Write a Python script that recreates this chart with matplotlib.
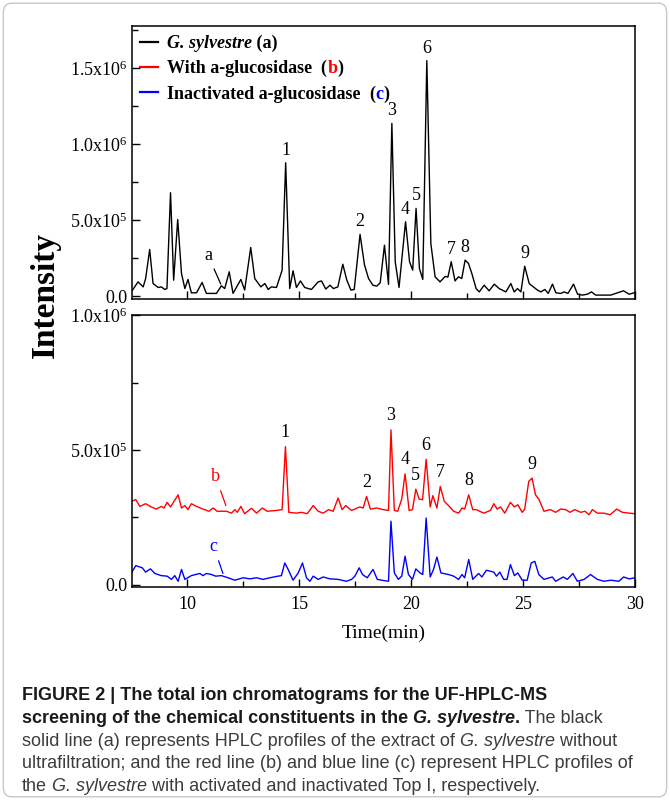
import numpy as np
import matplotlib.pyplot as plt
from matplotlib.patches import FancyBboxPatch
from matplotlib.ticker import FixedLocator, FixedFormatter, MultipleLocator

plt.rcParams["font.family"] = ["Liberation Serif", "DejaVu Serif"]
plt.rcParams["mathtext.fontset"] = "custom"
plt.rcParams["mathtext.rm"] = "Liberation Serif"
plt.rcParams["mathtext.it"] = "Liberation Serif:italic"
plt.rcParams["mathtext.bf"] = "Liberation Serif:bold"

# ---- data (time in min, intensity in units of 1e6) ----
time_a = [7.51, 7.81, 8.04, 8.15, 8.33, 8.48, 8.71, 8.85, 9.00, 9.10,
          9.26, 9.40, 9.58, 9.75, 9.90, 10.04, 10.19, 10.42, 10.67, 10.86,
          11.31, 11.53, 11.68, 11.88, 12.05, 12.40, 12.57, 12.84, 13.02, 13.29,
          13.47, 13.62, 13.76, 13.99, 14.24, 14.40, 14.58, 14.73, 14.88, 15.06,
          15.25, 15.55, 15.85, 16.00, 16.19, 16.38, 16.53, 16.73, 16.95, 17.13,
          17.31, 17.46, 17.72, 17.92, 18.10, 18.29, 18.47, 18.62, 18.81, 18.99,
          19.14, 19.29, 19.46, 19.75, 19.93, 20.07, 20.22, 20.37, 20.52, 20.70,
          20.88, 21.07, 21.29, 21.52, 21.64, 21.79, 21.96, 22.11, 22.26, 22.41,
          22.56, 22.71, 22.90, 23.04, 23.26, 23.48, 23.71, 23.93, 24.23, 24.45,
          24.60, 24.75, 24.90, 25.07, 25.27, 25.49, 25.64, 25.79, 25.97, 26.12,
          26.31, 26.46, 26.68, 26.83, 27.00, 27.25, 27.43, 27.65, 27.87, 28.05,
          28.24, 28.62, 28.91, 29.21, 29.48, 29.73, 29.96]
sylvestre_a = [0.028, 0.094, 0.061, 0.116, 0.307, 0.083, 0.057, 0.061, 0.044, 0.050,
               0.680, 0.105, 0.504, 0.149, 0.050, 0.110, 0.022, 0.022, 0.090, 0.018,
               0.018, 0.068, 0.050, 0.160, 0.018, 0.110, 0.040, 0.320, 0.116, 0.061,
               0.083, 0.044, 0.061, 0.057, 0.170, 0.877, 0.050, 0.167, 0.057, 0.100,
               0.057, 0.044, 0.094, 0.100, 0.047, 0.072, 0.050, 0.061, 0.210, 0.105,
               0.040, 0.044, 0.406, 0.204, 0.116, 0.072, 0.066, 0.088, 0.335, 0.077,
               1.136, 0.226, 0.057, 0.489, 0.226, 0.171, 0.577, 0.182, 0.110, 1.548,
               0.346, 0.127, 0.094, 0.130, 0.125, 0.226, 0.100, 0.127, 0.116, 0.237,
               0.215, 0.149, 0.050, 0.028, 0.072, 0.035, 0.079, 0.050, 0.028, 0.083,
               0.028, 0.050, 0.028, 0.197, 0.083, 0.057, 0.040, 0.028, 0.044, 0.018,
               0.079, 0.022, 0.018, 0.028, 0.018, 0.079, 0.013, 0.007, 0.013, 0.028,
               0.007, 0.007, 0.007, 0.022, 0.035, 0.013, 0.022]

time_b = [7.51, 7.71, 7.89, 8.15, 8.40, 8.63, 8.85, 8.97, 9.11, 9.26,
          9.60, 9.75, 9.90, 10.04, 10.19, 10.42, 10.71, 10.98, 11.16, 11.34,
          11.76, 11.98, 12.13, 12.24, 12.40, 12.57, 12.87, 13.10, 13.36, 13.57,
          13.99, 14.24, 14.39, 14.54, 14.88, 15.10, 15.36, 15.63, 15.85, 16.07,
          16.32, 16.52, 16.74, 16.92, 17.08, 17.34, 17.71, 17.86, 18.01, 18.18,
          18.46, 18.76, 18.99, 19.10, 19.25, 19.40, 19.58, 19.73, 19.91, 20.06,
          20.21, 20.36, 20.51, 20.67, 20.85, 20.97, 21.15, 21.30, 21.48, 21.67,
          21.90, 22.12, 22.27, 22.39, 22.57, 22.75, 22.91, 23.24, 23.54, 23.69,
          23.84, 23.99, 24.18, 24.43, 24.61, 24.76, 24.96, 25.07, 25.25, 25.40,
          25.55, 25.70, 25.93, 26.22, 26.45, 26.67, 26.90, 27.09, 27.30, 27.57,
          27.76, 27.94, 28.09, 28.31, 28.61, 28.88, 29.18, 29.43, 29.73, 30.00]
glucosidase_b = [0.309, 0.315, 0.290, 0.300, 0.288, 0.280, 0.290, 0.284, 0.305, 0.288,
                 0.333, 0.284, 0.293, 0.278, 0.300, 0.290, 0.280, 0.272, 0.284, 0.272,
                 0.272, 0.265, 0.278, 0.268, 0.290, 0.263, 0.283, 0.265, 0.284, 0.272,
                 0.275, 0.278, 0.512, 0.268, 0.265, 0.268, 0.263, 0.293, 0.272, 0.265,
                 0.278, 0.272, 0.321, 0.278, 0.293, 0.275, 0.288, 0.284, 0.327, 0.280,
                 0.284, 0.278, 0.275, 0.574, 0.275, 0.272, 0.317, 0.411, 0.275, 0.278,
                 0.354, 0.317, 0.315, 0.465, 0.288, 0.330, 0.284, 0.364, 0.309, 0.293,
                 0.272, 0.265, 0.284, 0.280, 0.333, 0.278, 0.278, 0.265, 0.275, 0.300,
                 0.280, 0.288, 0.265, 0.305, 0.288, 0.296, 0.268, 0.280, 0.383, 0.395,
                 0.333, 0.317, 0.272, 0.278, 0.268, 0.280, 0.278, 0.268, 0.278, 0.268,
                 0.272, 0.259, 0.278, 0.265, 0.265, 0.259, 0.280, 0.268, 0.265, 0.263]

time_c = [7.51, 7.71, 8.00, 8.15, 8.36, 8.56, 8.85, 9.11, 9.30, 9.45,
          9.60, 9.75, 9.90, 10.19, 10.57, 10.71, 10.86, 11.09, 11.28, 11.53,
          11.83, 12.13, 12.50, 12.80, 13.10, 13.39, 13.69, 14.06, 14.21, 14.36,
          14.51, 14.73, 14.96, 15.15, 15.33, 15.48, 15.63, 15.85, 16.07, 16.37,
          16.74, 17.11, 17.34, 17.49, 17.68, 17.83, 18.04, 18.30, 18.49, 18.76,
          18.99, 19.10, 19.25, 19.43, 19.58, 19.73, 19.88, 20.06, 20.21, 20.40,
          20.52, 20.67, 20.85, 21.00, 21.15, 21.33, 21.67, 21.90, 22.12, 22.27,
          22.39, 22.57, 22.75, 23.01, 23.16, 23.36, 23.69, 23.81, 23.96, 24.13,
          24.28, 24.43, 24.61, 24.76, 24.96, 25.18, 25.36, 25.52, 25.70, 25.93,
          26.30, 26.45, 26.79, 26.97, 27.22, 27.42, 27.72, 28.01, 28.31, 28.61,
          28.91, 29.28, 29.48, 29.73, 30.00]
inactivated_c = [0.043, 0.070, 0.062, 0.046, 0.058, 0.041, 0.033, 0.031, 0.019, 0.033,
                 0.012, 0.056, 0.019, 0.033, 0.041, 0.033, 0.041, 0.037, 0.031, 0.033,
                 0.025, 0.016, 0.025, 0.021, 0.025, 0.019, 0.025, 0.031, 0.033, 0.080,
                 0.056, 0.016, 0.043, 0.080, 0.025, 0.012, 0.031, 0.019, 0.028, 0.021,
                 0.019, 0.012, 0.019, 0.031, 0.062, 0.037, 0.025, 0.056, 0.019, 0.015,
                 0.012, 0.235, 0.043, 0.019, 0.031, 0.105, 0.037, 0.019, 0.058, 0.043,
                 0.037, 0.247, 0.028, 0.056, 0.102, 0.043, 0.037, 0.031, 0.019, 0.037,
                 0.025, 0.093, 0.019, 0.041, 0.028, 0.053, 0.046, 0.031, 0.046, 0.019,
                 0.019, 0.074, 0.033, 0.043, 0.016, 0.016, 0.080, 0.086, 0.037, 0.019,
                 0.028, 0.012, 0.028, 0.019, 0.041, 0.012, 0.019, 0.037, 0.019, 0.012,
                 0.016, 0.012, 0.028, 0.021, 0.025]

peak_names = ["1", "2", "3", "4", "5", "6", "7", "8", "9"]
peaks_top = [14.40, 17.72, 19.14, 19.75, 20.22, 20.70, 21.79, 22.41, 25.07]
peaks_bottom = [14.39, 18.01, 19.10, 19.73, 20.21, 20.67, 21.30, 22.57, 25.40]

top_ticks = [0.0, 0.5e6, 1.0e6, 1.5e6]
top_tick_labels = ["0.0", "5.0x10$^5$", "1.0x10$^6$", "1.5x10$^6$"]
bottom_ticks = [0.0, 0.5e6, 1.0e6]
bottom_tick_labels = ["0.0", "5.0x10$^5$", "1.0x10$^6$"]

SCALE = 1e6


def style_axis(ax, ticks, labels, ylim):
    for s in ax.spines.values():
        s.set_linewidth(1.1)
    ax.set_xlim(7.54, 30)
    ax.set_ylim(*ylim)
    ax.xaxis.set_major_locator(MultipleLocator(5))
    ax.xaxis.set_minor_locator(MultipleLocator(2.5))
    ax.yaxis.set_major_locator(FixedLocator(ticks))
    ax.yaxis.set_major_formatter(FixedFormatter(labels))
    ax.yaxis.set_minor_locator(MultipleLocator(0.25e6))
    ax.tick_params(which="both", direction="in", top=False, right=False,
                   labelsize=13, width=1.0)
    ax.tick_params(which="major", length=6)
    ax.tick_params(which="minor", length=4)
    ax.tick_params(axis="x", pad=6)


def label_peaks(ax, times, values, peaks, dy):
    t = np.asarray(times)
    v = np.asarray(values) * SCALE
    for name, p in zip(peak_names, peaks):
        i = int(np.argmin(np.abs(t - p)))
        ax.annotate(name, xy=(t[i], v[i]), xytext=(0, dy), textcoords="offset points",
                    ha="center", va="bottom", fontsize=13)


def chain(ax, anchor, runs, first_xy=None, **common):
    # draw text runs one after another on the same line
    prev = anchor
    for text, kw in runs:
        opts = dict(common)
        opts.update(kw)
        if prev is None:
            prev = ax.annotate(text, xy=first_xy, xycoords="figure fraction",
                               ha="left", va="bottom", zorder=10, **opts)
        else:
            prev = ax.annotate(text, xy=(1, 0), xycoords=prev,
                               ha="left", va="bottom", zorder=10, **opts)
    return prev


fig = plt.figure(figsize=(6.7, 8), dpi=100)
ax1 = fig.add_axes([0.197, 0.626, 0.751, 0.3415])
ax2 = fig.add_axes([0.197, 0.266, 0.751, 0.340])

la, = ax1.plot(time_a, np.array(sylvestre_a) * SCALE, color="black", lw=1.0)
lb, = ax2.plot(time_b, np.array(glucosidase_b) * SCALE, color="#ff0000", lw=1.0)
lc, = ax2.plot(time_c, np.array(inactivated_c) * SCALE, color="#0000ff", lw=1.0)

style_axis(ax1, top_ticks, top_tick_labels, (-0.02e6, 1.776e6))
style_axis(ax2, bottom_ticks, bottom_tick_labels, (-0.01e6, 1.0e6))
ax1.tick_params(axis="x", labelbottom=False)

label_peaks(ax1, time_a, sylvestre_a, peaks_top, 3)
label_peaks(ax2, time_b, glucosidase_b, peaks_bottom, 4)

ax1.annotate("a", xy=(11.5, 0.08e6), xytext=(10.93, 0.27e6), ha="center", va="center",
             fontsize=13, arrowprops=dict(arrowstyle="-", lw=0.9, color="black",
                                          shrinkA=2, shrinkB=0))
ax2.annotate("b", xy=(11.73, 0.293e6), xytext=(11.28, 0.40e6), ha="center", va="center",
             fontsize=13, color="#ff0000",
             arrowprops=dict(arrowstyle="-", lw=0.9, color="#ff0000", shrinkA=2, shrinkB=0))
ax2.annotate("c", xy=(11.6, 0.041e6), xytext=(11.19, 0.14e6), ha="center", va="center",
             fontsize=13, color="#0000ff",
             arrowprops=dict(arrowstyle="-", lw=0.9, color="#0000ff", shrinkA=2, shrinkB=0))

# legend with coloured letters appended to each entry
leg = ax1.legend(handles=[la, lb, lc],
                 labels=["G. sylvestre", "With a-glucosidase", "Inactivated a-glucosidase"],
                 loc="upper left", bbox_to_anchor=(0.016, 0.967), borderaxespad=0,
                 borderpad=0, frameon=False, handlelength=1.0, handletextpad=0.5,
                 labelspacing=0.46, prop=dict(size=13, weight="bold"))
for line in leg.get_lines():
    line.set_linewidth(1.6)
texts = leg.get_texts()
texts[0].set_fontstyle("italic")
bold = dict(fontsize=13, fontweight="bold")
chain(ax1, texts[0], [(" (a)", dict(color="black"))], **bold)
chain(ax1, texts[1], [("  (", dict(color="black")), ("b", dict(color="#ff0000")),
                      (")", dict(color="black"))], **bold)
chain(ax1, texts[2], [("  (", dict(color="black")), ("c", dict(color="#0000ff")),
                      (")", dict(color="black"))], **bold)

ax2.set_xlabel("Time(min)", fontsize=14, labelpad=9)
fig.text(0.068, 0.631, "Intensity", rotation=90, fontsize=24, fontweight="bold",
         ha="center", va="center")

# caption
cap = dict(family=["Liberation Sans", "DejaVu Sans"], fontsize=13)
B = dict(fontweight="bold", color="#1a1a1a")
BI = dict(fontweight="bold", fontstyle="italic", color="#1a1a1a")
R = dict(color="#3c3c3c")
I = dict(fontstyle="italic", color="#3c3c3c")
caption_lines = [
    [("FIGURE 2 | The total ion chromatograms for the UF-HPLC-MS", B)],
    [("screening of the chemical constituents in the", B), (" G. sylvestre", BI),
     (".", B), (" The black", R)],
    [("solid line (a) represents HPLC profiles of the extract of", R),
     (" G. sylvestre", I), (" without", R)],
    [("ultrafiltration; and the red line (b) and blue line (c) represent HPLC profiles of", R)],
    [("the", R), (" G. sylvestre", I), (" with activated and inactivated Top I, respectively.", R)],
]
y0 = 0.12
for k, runs in enumerate(caption_lines):
    chain(ax2, None, runs, first_xy=(0.033, y0 - k * 0.0285), **cap)

fig.add_artist(FancyBboxPatch((0.005, 0.004), 0.99, 0.992,
                              boxstyle="round,pad=0,rounding_size=0.012",
                              transform=fig.transFigure, fill=False,
                              edgecolor="#c8c8c8", linewidth=1.0))

fig.savefig("out.png", dpi=100)
